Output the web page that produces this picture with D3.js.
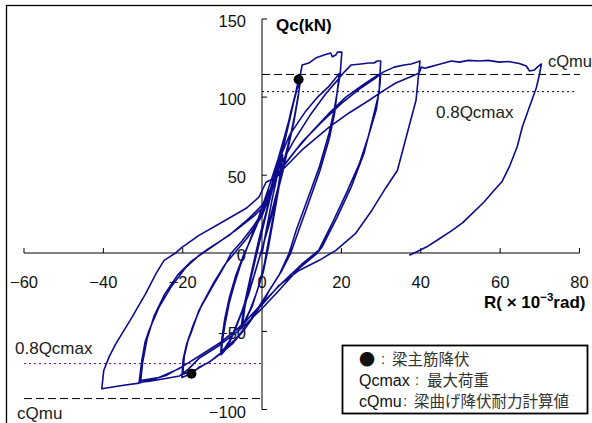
<!DOCTYPE html>
<html>
<head>
<meta charset="utf-8">
<script src="https://cdn.jsdelivr.net/npm/d3@7"></script>
<style>
  body { margin: 0; background: #fff; }
  svg text { font-family: "Liberation Sans", Arial, sans-serif; }
  .jp { font-family: "Noto Sans CJK JP", sans-serif; }
</style>
</head>
<body>
<svg id="chart" width="592" height="423"></svg>
<script>
// axis ticks
const xTicks = [-60, -40, -20, 0, 20, 40, 60, 80];
const yTicks = [150, 100, 50, 0, -50, -100];

// hysteresis, [R (x10^-3 rad), Qc (kN)]
const loop5 = [[0,0],[1,14],[2.5,34],[4,52],[5,62],
  [4.4,48],[3,26],[1.5,6],[0.5,-8],[-1,-22],[-2.5,-34],[-4,-42],[-5,-47],
  [-4.3,-34],[-3,-18],[-1.5,-2],[0,14],[1.5,30],[3,45],[4.5,58],[5.2,63],
  [4.5,46],[3,24],[1.6,4],[0.3,-12],[-1.5,-26],[-3,-36],[-4.5,-44],[-5.2,-46],
  [-4.5,-33],[-3,-16],[-1.6,0]];

const loop10 = [[-0.5,12],[1,26],[2.6,42],[4.3,58],[5.8,74],[7.2,90],[8.4,102],[9.2,111],[9.8,113],
  [9.3,104],[8.2,88],[7.2,76],[6,64],[4.6,48],[3,32],[1.8,20],[0.6,8],[-0.8,-4],[-2.2,-16],[-3.5,-27],[-5,-37],[-6.5,-47],[-8,-56],[-9.3,-62],[-10.3,-65],
  [-10,-56],[-9.3,-45],[-8.3,-32],[-7,-20],[-5.5,-8],[-4,2],[-2.5,12],[-1,22],[0.6,34],[2.2,46],[4,60],[5.8,76],[7.4,91],[8.8,105],[9.6,110],
  [9.1,100],[8,84],[6.6,68],[5.2,52],[3.6,36],[2.2,22],[0.8,10],[-0.6,-2],[-2,-14],[-3.6,-26],[-5.2,-38],[-6.8,-48],[-8.2,-56],[-9.5,-61],[-10.4,-63],
  [-10.1,-54],[-9.4,-42],[-8.2,-28],[-6.6,-14],[-4.8,-2],[-3,8],[-1,20],[1,32],[3,46]];

const loop20 = [[5,64],[7,86],[8.6,104],[9.6,114],[10.1,120.5],[11.8,121.8],[13.5,125],[15.6,126.9],[17.3,128.2],[17.7,125.8],[18.6,127],[19,128.8],[20.1,128.8],
  [19.9,122],[19.7,115],[18.2,92],[16.9,77],[14.4,55],[11.1,32],[8.6,14.7],[6.8,0],[4.3,-14],[2,-23],[0.5,-30],[-2,-40],[-4.5,-49],[-7.5,-58],[-10.8,-65],[-13.5,-70],[-15.9,-73],[-17.8,-77],[-20.2,-79.5],
  [-19.9,-68],[-19,-58],[-17.9,-51],[-15.9,-36.5],[-12.6,-21.8],[-9.1,-6.4],[-7.8,0],[-5,8],[-2,18],[0,26],[2,40],[4.3,60],[7,76],[11,91],[14,100],[16.9,107],[19.4,115],
  [19.3,111],[18.3,90],[17,74],[14.6,53],[11.4,30],[9,13],[7.2,0],[5,-11],[2.5,-21],[0,-31],[-3,-43],[-6,-53],[-9.5,-62],[-13,-69],[-16.3,-74],[-20,-77.5],
  [-19.6,-66],[-18.6,-55],[-17.2,-45],[-15.2,-33],[-12.2,-19],[-9.3,-7],[-7,0],[-4,9],[-1.5,18],[0,24],[2.5,40],[4.3,55]];

const loop30 = [[4.3,55],[8,72],[12,88],[16,102],[19.4,112],[20.7,116],[22.4,120.5],[24.9,121.2],[26.9,121.8],[28.2,121.8],[29,123.1],[29.9,123.1],
  [29.5,103],[27.4,81],[25.7,64],[22.4,42],[18.9,23],[15.1,4],[13.9,0],[9.3,-9.6],[4.3,-23.7],[0,-35.3],[-5.8,-49.4],[-10.8,-59],[-15.9,-67.3],[-18.5,-74],[-20.8,-78.5],[-25,-80.5],[-28,-81.8],[-31,-82.7],
  [-30.3,-68.6],[-29.5,-57],[-28.5,-49.4],[-26,-34.6],[-23,-21.8],[-19.2,-9],[-15.9,-1.3],[-13.4,3.2],[-8.3,11.5],[-3.3,22.4],[0,30.8],[4.3,52],[8.5,66],[12.6,78],[17,90],[21.1,100],[25.5,108],[29.9,115.4],
  [29.7,108],[28.8,92],[26.8,75],[24.6,58],[21.5,40],[18,21],[14.3,2],[10,-7],[5,-19],[0,-32],[-5,-46],[-10.5,-57],[-16,-66],[-21,-74],[-26,-79.5],[-30.6,-81.5],
  [-30.1,-70],[-29,-55],[-27.2,-40],[-24.5,-26],[-21.3,-14],[-17.8,-5],[-15,0],[-11.5,6],[-6.5,15],[-2,24],[0,29],[2.8,45]];

const loop40 = [[2.8,45],[6,58],[10,71],[15,84],[20,96],[25,106],[28.5,112],[30.5,116],[33.3,119.2],[35.8,120.5],[37.6,121.2],[39.1,122.4],[39.8,123.1],
  [39.6,118],[38.8,98],[36.6,77],[34.1,53],[31.2,42],[27.7,27.6],[23.6,12.8],[18.6,1.9],[14.4,-4.5],[9.3,-11],[4.3,-20.5],[0,-33],[-5.8,-47.4],[-10.8,-57.7],[-15.9,-66],[-20.5,-73],[-24,-78],[-28.5,-81.4],[-31,-83.1],[-35.3,-84.6],[-40.4,-86.7],
  [-39.9,-75],[-38.5,-66],[-36.8,-57.7],[-32.8,-41],[-29.3,-25.6],[-26.7,-12.8],[-24.7,-4.5],[-21.9,0],[-20.2,3.8],[-15.9,11.5],[-10.1,19.9],[-4,28.8],[-0.8,35.9],[1,45.5],[3,48],[5,53],[10,66],[16.9,80.8],[22,90],[27,98],[30.5,104],[33.7,109],[37,112.5],[39.6,115.4]];

const loop70 = [[40.1,119.2],[41,118.5],[42.1,119.2],[44,120.5],[45.9,121.8],[47.7,123.1],[49.7,122.4],[52,123.5],[54.7,123.1],[57,123.5],[59.8,122.4],[62,122.8],[64.8,121.5],[66.6,119.9],[67.4,116.7],[68.6,117.3],[69.5,119.5],[70.4,121.2],
  [69.9,114.3],[69.1,105.8],[67.4,93.8],[65.6,81],[64.3,68.2],[62.3,55.3],[60.5,46],[58.5,40.4],[56,33],[53,25.6],[50.5,19.5],[47.9,14.7],[44.5,9],[41.4,4],[39,1],[37.1,-1.3]];

// beam bar yield points
const yieldPoints = [[9.2,111.3],[-17.8,-77.1]];

// reference levels: [positive side, negative side]
const cQmu = [114.5, -93];
const qcmax08 = [103.5, -70.6];

const svg = d3.select('#chart');

var x = d3.scaleLinear().domain([-60, 80]).range([24, 579.5]);
var y = d3.scaleLinear().domain([-100, 150]).range([409.5, 19]);

// outer frame
svg.append('rect')
    .attr('x', 6.5).attr('y', 5.5)
    .attr('width', 620).attr('height', 440)
    .attr('fill', 'none').attr('stroke', '#000').attr('stroke-width', 1.3);

// x axis
var xAxis = svg.append('g').attr('transform', 'translate(0,' + Math.round(y(0)) + ')');
xAxis.append('line').attr('x1', x(-60)).attr('x2', x(80)).attr('stroke', '#000');
xAxis.selectAll('.tick').data(xTicks).enter().append('line')
    .attr('x1', d => x(d)).attr('x2', d => x(d))
    .attr('y1', 0).attr('y2', -5).attr('stroke', '#000');
xAxis.selectAll('text').data(xTicks).enter().append('text')
    .attr('x', d => x(d)).attr('y', 35)
    .attr('text-anchor', 'middle').attr('font-size', 16.5).attr('fill', '#111')
    .text(d => d3.format('d')(d));

// y axis
var yAxis = svg.append('g').attr('transform', 'translate(' + Math.round(x(0)) + ',0)');
yAxis.append('line').attr('y1', y(150)).attr('y2', y(-100)).attr('stroke', '#000');
yAxis.selectAll('.tick').data(yTicks).enter().append('line')
    .attr('y1', d => y(d)).attr('y2', d => y(d))
    .attr('x1', 0).attr('x2', 5).attr('stroke', '#000');
yAxis.selectAll('text').data(yTicks).enter().append('text')
    .attr('x', -16).attr('y', d => y(d) + 8)
    .attr('text-anchor', 'end').attr('font-size', 16.5).attr('fill', '#111')
    .text(d => d3.format('d')(d));

// axis titles
svg.append('text').attr('x', 276).attr('y', 31)
    .attr('font-size', 17).attr('font-weight', 'bold').text('Qc(kN)');
var rTitle = svg.append('text').attr('x', 484).attr('y', 308)
    .attr('font-size', 17).attr('font-weight', 'bold');
rTitle.append('tspan').text('R( × 10');
rTitle.append('tspan').attr('dy', -7).attr('font-size', 11.5).text('−3');
rTitle.append('tspan').attr('dy', 7).text('rad)');

// reference lines
svg.append('line').attr('x1', x(0)).attr('x2', 580).attr('y1', y(cQmu[0])).attr('y2', y(cQmu[0]))
    .attr('stroke', '#000').attr('stroke-dasharray', '8,4');
svg.append('line').attr('x1', x(0)).attr('x2', 577).attr('y1', y(qcmax08[0])).attr('y2', y(qcmax08[0]))
    .attr('stroke', '#000').attr('stroke-dasharray', '2,3');
svg.append('line').attr('x1', 24).attr('x2', x(0)).attr('y1', y(qcmax08[1])).attr('y2', y(qcmax08[1]))
    .attr('stroke', '#800080').attr('stroke-dasharray', '2,3');
svg.append('line').attr('x1', 24).attr('x2', x(0)).attr('y1', y(cQmu[1])).attr('y2', y(cQmu[1]))
    .attr('stroke', '#000').attr('stroke-dasharray', '8,4');

svg.append('text').attr('x', 548).attr('y', 67).attr('font-size', 16.5).attr('fill', '#222').text('cQmu');
svg.append('text').attr('x', 436).attr('y', 118).attr('font-size', 17).attr('fill', '#222').text('0.8Qcmax');
svg.append('text').attr('x', 15).attr('y', 354).attr('font-size', 17).attr('fill', '#222').text('0.8Qcmax');
svg.append('text').attr('x', 17).attr('y', 419).attr('font-size', 17).attr('fill', '#222').text('cQmu');

// hysteresis curve
var path = [].concat(loop5, loop10, loop20, loop30, loop40, loop70);
var line = d3.line().x(d => x(d[0])).y(d => y(d[1])).curve(d3.curveLinear);
svg.append('path').datum(path)
    .attr('d', line)
    .attr('fill', 'none')
    .attr('stroke', '#0c0c8c')
    .attr('stroke-width', 1.6)
    .attr('stroke-linejoin', 'round');

svg.selectAll('.yield').data(yieldPoints).enter().append('circle')
    .attr('cx', d => x(d[0])).attr('cy', d => y(d[1]))
    .attr('r', 5).attr('fill', '#000');

// legend
var legend = svg.append('g');
legend.append('rect').attr('x', 342.5).attr('y', 345.5).attr('width', 245).attr('height', 68)
    .attr('fill', '#fff').attr('stroke', '#000').attr('stroke-width', 1.8);
const legendRows = [
    {key: '●', keyJp: true, colonX: 381, jpX: 392, jp: '梁主筋降伏'},
    {key: 'Qcmax', keyJp: false, colonX: 415, jpX: 427, jp: '最大荷重'},
    {key: 'cQmu', keyJp: false, colonX: 403, jpX: 414, jp: '梁曲げ降伏耐力計算値'}
];
legendRows.forEach((r, i) => {
    var yy = 365 + i * 21;
    legend.append('text').attr('x', 359).attr('y', yy).attr('font-size', 16).attr('fill', '#111')
        .attr('class', r.keyJp ? 'jp' : null).text(r.key);
    legend.append('text').attr('x', r.colonX).attr('y', yy - 1).attr('font-size', 15).attr('fill', '#333').text(':');
    legend.append('text').attr('x', r.jpX).attr('y', yy).attr('font-size', 15.5).attr('fill', '#333')
        .attr('class', 'jp').text(r.jp);
});
</script>
</body>
</html>
